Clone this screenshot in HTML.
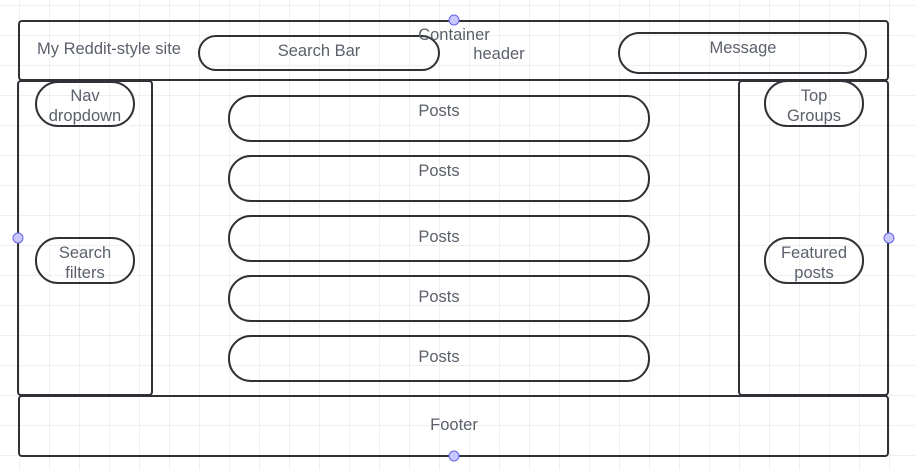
<!DOCTYPE html>
<html><head><meta charset="utf-8"><style>
html,body{margin:0;padding:0;background:#fff;}
svg{display:block;}
text{font-family:"Liberation Sans",sans-serif;font-size:16.5px;fill:#5b606b;}
</style></head><body>
<svg width="916" height="470" viewBox="0 0 916 470">
<defs>
<pattern id="grid" x="19" y="5" width="30" height="30" patternUnits="userSpaceOnUse">
<path d="M0 0V30M0 0H30" stroke="#e2e2e2" stroke-width="1" fill="none"/>
</pattern>
</defs>
<rect width="916" height="470" fill="url(#grid)"/>
<g fill="none" stroke="#2f3136" stroke-width="2">
<rect x="19" y="21" width="869" height="59" rx="3"/>
<rect x="18" y="81" width="134" height="314" rx="3"/>
<rect x="739" y="81" width="149" height="314" rx="3"/>
<rect x="19" y="396" width="869" height="60" rx="3"/>
<rect x="199" y="36" width="240" height="34" rx="17"/>
<rect x="619" y="33" width="247" height="40" rx="20"/>
<rect x="36" y="82" width="98" height="44" rx="22"/>
<rect x="36" y="238" width="98" height="45" rx="22"/>
<rect x="765" y="81" width="98" height="45" rx="22"/>
<rect x="765" y="238" width="98" height="45" rx="22"/>
<rect x="229" y="96" width="420" height="45" rx="22"/>
<rect x="229" y="156" width="420" height="45" rx="22"/>
<rect x="229" y="216" width="420" height="45" rx="22"/>
<rect x="229" y="276" width="420" height="45" rx="22"/>
<rect x="229" y="336" width="420" height="45" rx="22"/>
</g>
<text x="37" y="54">My Reddit-style site</text>
<text x="319" y="56" text-anchor="middle">Search Bar</text>
<text x="454" y="40" text-anchor="middle">Container</text>
<text x="499" y="59" text-anchor="middle">header</text>
<text x="743" y="53" text-anchor="middle">Message</text>
<text x="85" y="101" text-anchor="middle">Nav</text>
<text x="85" y="121" text-anchor="middle">dropdown</text>
<text x="85" y="258" text-anchor="middle">Search</text>
<text x="85" y="278" text-anchor="middle">filters</text>
<text x="814" y="101" text-anchor="middle">Top</text>
<text x="814" y="121" text-anchor="middle">Groups</text>
<text x="814" y="258" text-anchor="middle">Featured</text>
<text x="814" y="278" text-anchor="middle">posts</text>
<text x="439" y="116" text-anchor="middle">Posts</text>
<text x="439" y="176" text-anchor="middle">Posts</text>
<text x="439" y="242" text-anchor="middle">Posts</text>
<text x="439" y="302" text-anchor="middle">Posts</text>
<text x="439" y="362" text-anchor="middle">Posts</text>
<text x="454" y="430" text-anchor="middle">Footer</text>
<g fill="#c8c8ff" stroke="#6464e6" stroke-width="1">
<circle cx="454" cy="20" r="5"/>
<circle cx="18" cy="238" r="5"/>
<circle cx="889" cy="238" r="5"/>
<circle cx="454" cy="456" r="5"/>
</g>
</svg>
</body></html>
